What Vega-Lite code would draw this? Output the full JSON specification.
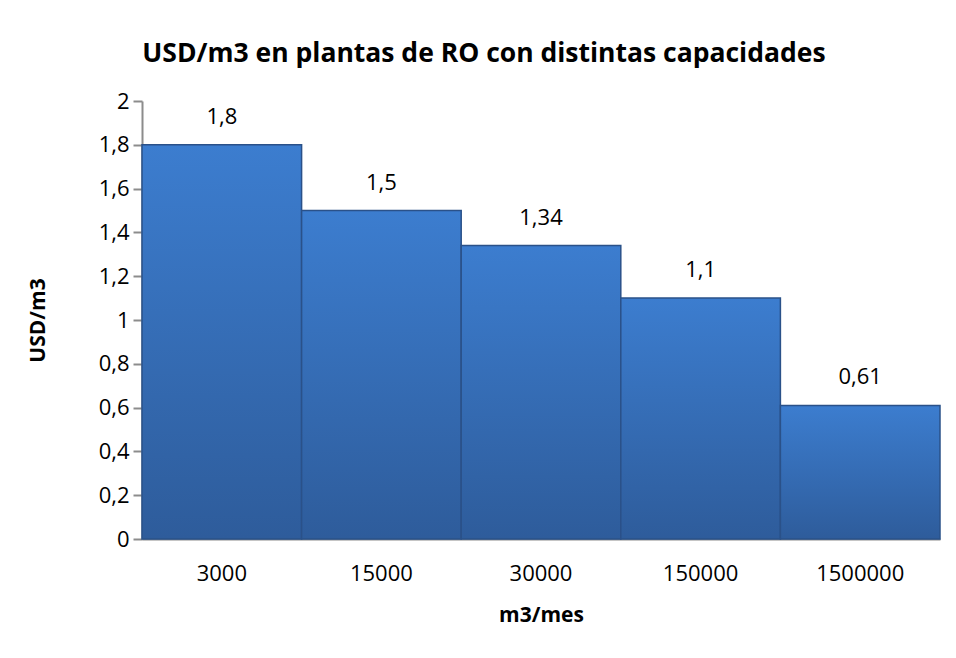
{
  "$schema": "https://vega.github.io/schema/vega-lite/v6.json",
  "autosize": "none",
  "width": 798,
  "height": 438,
  "padding": {"left": 142, "top": 101, "right": 16, "bottom": 119},
  "background": "white",
  "config": {
    "locale": {"number": {"decimal": ",", "thousands": ".", "grouping": [3], "currency": ["", " €"]}},
    "view": {"stroke": null},
    "font": "Open Sans"
  },
  "title": {
    "text": "USD/m3 en plantas de RO con distintas capacidades",
    "font": "Open Sans",
    "fontSize": 26.5,
    "fontWeight": "bold",
    "color": "#000000",
    "anchor": "middle",
    "frame": "bounds",
    "offset": 23
  },
  "data": {
    "values": [
      {"capacidad": "3000", "usd": 1.8},
      {"capacidad": "15000", "usd": 1.5},
      {"capacidad": "30000", "usd": 1.34},
      {"capacidad": "150000", "usd": 1.1},
      {"capacidad": "1500000", "usd": 0.61}
    ]
  },
  "encoding": {
    "x": {
      "field": "capacidad",
      "type": "nominal",
      "sort": null,
      "scale": {"paddingInner": 0, "paddingOuter": 0},
      "axis": {
        "title": "m3/mes",
        "titleFontSize": 21,
        "titleFontWeight": "bold",
        "titleColor": "#000000",
        "titlePadding": 20,
        "labelAngle": 0,
        "labelFontSize": 22,
        "labelColor": "#000000",
        "labelPadding": 24,
        "ticks": false,
        "domainColor": "#8c8c8c",
        "domainWidth": 2
      }
    },
    "y": {
      "field": "usd",
      "type": "quantitative",
      "scale": {"domain": [0, 2]},
      "axis": {
        "title": "USD/m3",
        "titleFontSize": 21,
        "titleFontWeight": "bold",
        "titleColor": "#000000",
        "titlePadding": 50,
        "values": [0, 0.2, 0.4, 0.6, 0.8, 1, 1.2, 1.4, 1.6, 1.8, 2],
        "format": "~g",
        "labelFontSize": 22,
        "labelColor": "#000000",
        "labelPadding": 4,
        "tickSize": 9,
        "tickColor": "#8c8c8c",
        "tickWidth": 2,
        "domainColor": "#8c8c8c",
        "domainWidth": 2,
        "grid": false
      }
    }
  },
  "layer": [
    {
      "mark": {
        "type": "bar",
        "color": {
          "gradient": "linear",
          "x1": 0, "y1": 0, "x2": 0, "y2": 1,
          "stops": [
            {"offset": 0, "color": "#3c7dcf"},
            {"offset": 1, "color": "#2e5c9b"}
          ]
        },
        "stroke": "#2a5189",
        "strokeWidth": 1.5
      }
    },
    {
      "mark": {"type": "text", "dy": -28, "baseline": "middle", "fontSize": 22, "color": "#000000"},
      "encoding": {
        "text": {"field": "usd", "type": "quantitative", "format": "~g"}
      }
    }
  ]
}
